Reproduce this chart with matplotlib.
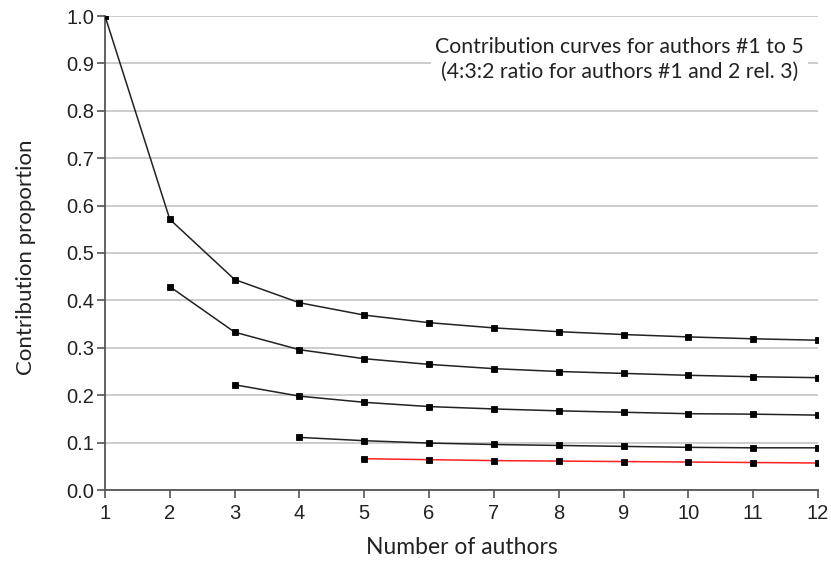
import numpy as np
import matplotlib
matplotlib.use("Agg")
import matplotlib.pyplot as plt

# Number of authors on the paper
n_authors = [1, 2, 3, 4, 5, 6, 7, 8, 9, 10, 11, 12]

# Contribution proportion of each author position (None where the position does not exist)
author1 = [1.000, 0.571, 0.444, 0.395, 0.369, 0.353, 0.342, 0.334, 0.328, 0.323, 0.319, 0.316]
author2 = [None, 0.429, 0.333, 0.296, 0.277, 0.265, 0.256, 0.250, 0.246, 0.242, 0.239, 0.237]
author3 = [None, None, 0.222, 0.198, 0.185, 0.176, 0.171, 0.167, 0.164, 0.161, 0.160, 0.158]
author4 = [None, None, None, 0.111, 0.104, 0.099, 0.096, 0.094, 0.092, 0.090, 0.089, 0.089]
author5 = [None, None, None, None, 0.066, 0.064, 0.062, 0.061, 0.060, 0.059, 0.058, 0.057]

series = [author1, author2, author3, author4, author5]
line_colors = ["#222222", "#222222", "#222222", "#222222", "#ff2020"]

y_ticks = [0.0, 0.1, 0.2, 0.3, 0.4, 0.5, 0.6, 0.7, 0.8, 0.9, 1.0]
note_text = "Contribution curves for authors #1 to 5\n(4:3:2 ratio for authors #1 and 2 rel. 3)"

label_font = "Lato"
tick_font = "Liberation Sans"

fig = plt.figure(figsize=(8.31, 5.61), dpi=100)
ax = fig.add_axes([105 / 831, 1 - 490 / 561, (818 - 105) / 831, (490 - 16) / 561])

for vals, col in zip(series, line_colors):
    xs = [x for x, v in zip(n_authors, vals) if v is not None]
    ys = [v for v in vals if v is not None]
    ax.plot(xs, ys, color=col, lw=1.1, zorder=3)
    ax.plot(xs, ys, ls="none", marker="s", ms=4.6, mew=0.6, mfc="black", mec="black", zorder=4)

ax.set_xlim(1, 12)
ax.set_ylim(0, 1.0)
ax.set_xticks(n_authors)
ax.set_yticks(y_ticks)
ax.set_yticklabels([f"{t:.1f}" for t in y_ticks], fontfamily=tick_font, fontsize=14.5, color="#222222")
ax.set_xticklabels([str(n) for n in n_authors], fontfamily=tick_font, fontsize=14.5, color="#222222")

ax.grid(axis="y", color="#c8c8c8", lw=1.3, zorder=0)
ax.set_axisbelow(True)
for side in ("top", "right"):
    ax.spines[side].set_visible(False)
for side in ("left", "bottom"):
    ax.spines[side].set_color("#555555")
    ax.spines[side].set_linewidth(1.3)
ax.tick_params(axis="y", direction="out", length=6, width=1.2, color="#555555", pad=2)
ax.tick_params(axis="x", direction="out", length=6, width=1.2, color="#555555", pad=4)

ax.set_xlabel("Number of authors", fontfamily=label_font, fontsize=16.5, color="#222222")
ax.set_ylabel("Contribution proportion", fontfamily=label_font, fontsize=16, color="#222222")
ax.xaxis.set_label_coords(0.5, -0.1)
ax.yaxis.set_label_coords(-0.097, 0.49)

ax.text(0.722, 0.909, note_text, transform=ax.transAxes, ha="center", va="center",
        fontfamily=label_font, fontsize=15.3, color="#222222", linespacing=1.3,
        bbox=dict(facecolor="white", edgecolor="none", pad=3), zorder=5)

fig.savefig("out.png", dpi=100)
